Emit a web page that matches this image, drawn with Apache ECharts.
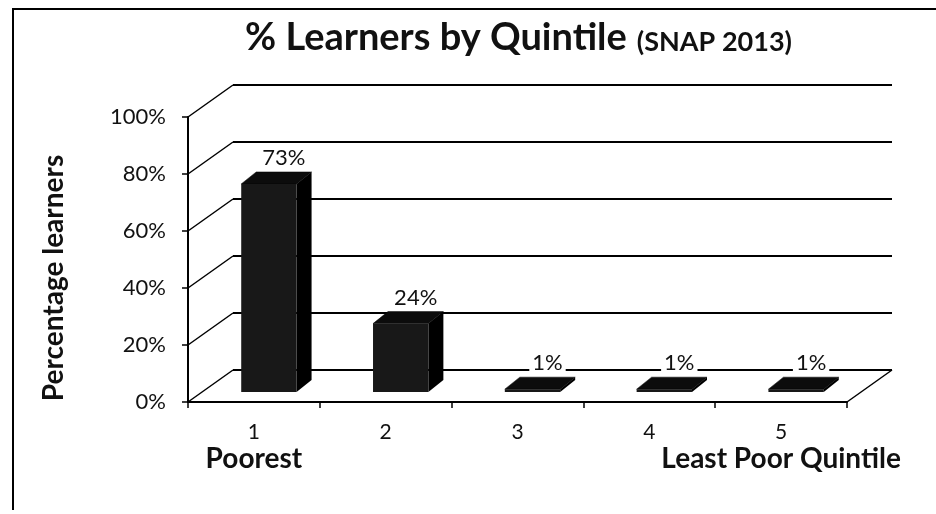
<!DOCTYPE html>
<html>
<head>
<meta charset="utf-8">
<script src="https://cdn.jsdelivr.net/npm/echarts@6/dist/echarts.min.js"></script>
<style>
  html, body { margin: 0; padding: 0; background: #fff; }
  #chart { width: 936px; height: 514px; }
</style>
</head>
<body>
<div id="chart"></div>
<script>
// quintiles, notes under first/last, share of learners (%)
const categories = ['1', '2', '3', '4', '5'];
const catNotes = ['Poorest', '', '', '', 'Least Poor Quintile'];
const shares = [73, 24, 1, 1, 1];
const yTicks = [0, 20, 40, 60, 80, 100];

// fake 3d depth of the plot box (px)
const DEPTH_X = 45, DEPTH_Y = -32;

let myChart = echarts.init(document.getElementById('chart'));

// side wall + floor diagonals
function wallItem(params, api) {
  let p = api.coord([0, api.value(1)]);
  let half = api.size([1, 0])[0] / 2;
  let x0 = p[0] - half;
  let kids = [{
    type: 'line',
    shape: { x1: x0, y1: p[1], x2: x0 + DEPTH_X, y2: p[1] + DEPTH_Y },
    style: { stroke: '#000', lineWidth: 1.5 }
  }];
  if (api.value(1) === 0) {
    let q = api.coord([categories.length - 1, 0]);
    let x1 = q[0] + half;
    kids.push({
      type: 'line',
      shape: { x1: x1, y1: q[1], x2: x1 + DEPTH_X, y2: q[1] + DEPTH_Y },
      style: { stroke: '#000', lineWidth: 1.5 }
    });
  }
  return { type: 'group', children: kids };
}

// 3d-ish box per bar
function barItem(params, api) {
  let i = api.value(0), v = api.value(1);
  let base = api.coord([i, 0]);
  let top = api.coord([i, v]);
  let band = api.size([1, 0])[0];
  let hw = band * 0.21;
  let fx = 15, fy = -10;      // bar front sits a bit into the box
  let dx = 15, dy = -12;      // bar depth
  let cx = base[0] + fx;
  let yb = base[1] + fy, yt = top[1] + fy;
  let l = cx - hw, r = cx + hw;
  return {
    type: 'group',
    children: [
      { type: 'polygon', shape: { points: [[l, yt], [r, yt], [r + dx, yt + dy], [l + dx, yt + dy]] },
        style: { fill: '#0c0c0c', stroke: '#000', lineWidth: 0.5 } },
      { type: 'polygon', shape: { points: [[r, yt], [r + dx, yt + dy], [r + dx, yb + dy], [r, yb]] },
        style: { fill: '#000' } },
      { type: 'rect', shape: { x: l, y: yt, width: r - l, height: yb - yt },
        style: { fill: '#181818' } },
      { type: 'text', style: {
          text: v + '%', x: cx + dx, y: yt + dy - 3,
          align: 'center', verticalAlign: 'bottom',
          font: '22px Lato', fill: '#111',
          backgroundColor: '#fff', padding: [0, 3]
        } }
    ]
  };
}

setTimeout(function () {
  var option = {
    animation: false,
    title: {
      text: '{a|% Learners by Quintile}  {s|(SNAP 2013)}',
      left: 240,
      top: 14,
      textStyle: {
        rich: {
          a: { fontFamily: 'Lato', fontWeight: 'bold', fontSize: 38, color: '#111' },
          s: { fontFamily: 'Lato', fontWeight: 'bold', fontSize: 27, color: '#111', padding: [8, 0, 0, 0] }
        }
      }
    },
    graphic: [
      { type: 'polyline', shape: { points: [[13, 510], [13, 9], [940, 9]] },
        style: { stroke: '#000', lineWidth: 2, fill: null } },
      { type: 'text', x: 54, y: 278, rotation: Math.PI / 2,
        style: { text: 'Percentage learners', font: 'bold 28px Lato', fill: '#111',
                 align: 'center', verticalAlign: 'middle' } }
    ],
    grid: [
      { left: 188, right: 89, top: 117, bottom: 112 },
      { left: 233, right: 44, top: 85, bottom: 144 }
    ],
    xAxis: [
      {
        gridIndex: 0, type: 'category', data: categories,
        axisLine: { lineStyle: { color: '#000', width: 2 } },
        axisTick: { show: true, length: 6, lineStyle: { color: '#000', width: 1.5 } },
        axisLabel: {
          interval: 0,
          margin: 18,
          formatter: function (val, idx) {
            return catNotes[idx] ? '{n|' + val + '}\n{w|' + catNotes[idx] + '}' : '{n|' + val + '}';
          },
          rich: {
            n: { fontFamily: 'Lato', fontSize: 21, color: '#111', lineHeight: 24 },
            w: { fontFamily: 'Lato', fontWeight: 'bold', fontSize: 28, color: '#111', lineHeight: 30 }
          }
        }
      },
      { gridIndex: 1, type: 'category', data: categories, show: false }
    ],
    yAxis: [
      {
        gridIndex: 0, type: 'value', min: 0, max: 100, interval: 20,
        axisLine: { show: true, lineStyle: { color: '#000', width: 2 } },
        axisTick: { show: true, length: 6, lineStyle: { color: '#000', width: 1.5 } },
        axisLabel: { formatter: '{value}%', margin: 22, fontFamily: 'Lato', fontSize: 22, color: '#111' },
        splitLine: { show: false }
      },
      {
        gridIndex: 1, type: 'value', min: 0, max: 100, interval: 20,
        axisLine: { show: false }, axisTick: { show: false }, axisLabel: { show: false },
        splitLine: { show: true, lineStyle: { color: '#000', width: 2 } }
      }
    ],
    series: [
      {
        type: 'custom', xAxisIndex: 0, yAxisIndex: 0,
        renderItem: wallItem,
        data: yTicks.map(v => [0, v]),
        z: 1, silent: true
      },
      {
        type: 'custom', xAxisIndex: 0, yAxisIndex: 0,
        renderItem: barItem,
        encode: { x: 0, y: 1 },
        data: shares.map((v, i) => [i, v]),
        z: 5
      }
    ]
  };
  myChart.setOption(option);
});
</script>
</body>
</html>
